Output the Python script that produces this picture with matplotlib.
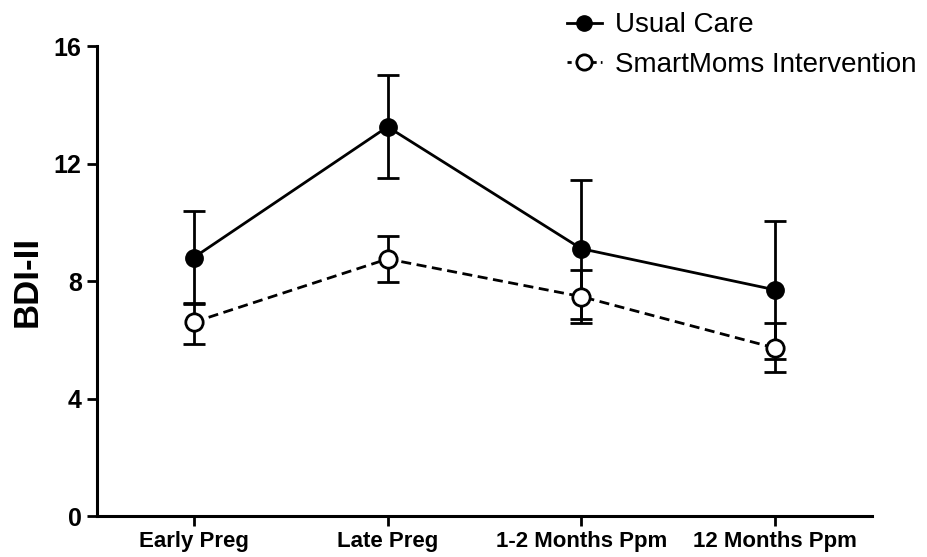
import matplotlib
matplotlib.use("Agg")
import matplotlib.pyplot as plt
from matplotlib.lines import Line2D
import numpy as np

categories = ["Early Preg", "Late Preg", "1-2 Months Ppm", "12 Months Ppm"]
usual_mean = [8.8, 13.25, 9.1, 7.7]
usual_upper = [10.4, 15.0, 11.45, 10.05]
usual_lower = [7.25, 11.5, 6.7, 5.33]
smart_mean = [6.6, 8.75, 7.47, 5.72]
smart_upper = [7.22, 9.54, 8.39, 6.56]
smart_lower = [5.85, 7.96, 6.56, 4.9]
yticks = [0, 4, 8, 12, 16]

plt.rcParams['font.family'] = ['Liberation Sans', 'DejaVu Sans']

fig = plt.figure(figsize=(9.28, 5.57), dpi=100)
ax = fig.add_axes([0.1045, 0.0736, 0.835, 0.8438])

x = np.arange(len(categories))
um = np.array(usual_mean); sm = np.array(smart_mean)
uerr = [um - np.array(usual_lower), np.array(usual_upper) - um]
serr = [sm - np.array(smart_lower), np.array(smart_upper) - sm]

ax.errorbar(x, um, yerr=uerr, fmt='-o', color='black', lw=2, ms=12.5,
            capsize=8, capthick=2, elinewidth=2, mfc='black', mec='black',
            zorder=3)
ax.errorbar(x, sm, yerr=serr, fmt='--o', color='black', lw=2, ms=12.5,
            capsize=8, capthick=2, elinewidth=2, mfc='white', mec='black', mew=2,
            dashes=(3.6, 2.0), zorder=4)

ax.set_xlim(-0.5, 3.5)
ax.set_ylim(0, 16)
ax.set_yticks(yticks)
ax.set_yticklabels([str(t) for t in yticks], fontsize=18, fontweight='bold')
ax.set_xticks(x)
ax.set_xticklabels(categories, fontsize=16, fontweight='bold')
ax.set_ylabel('BDI-II', fontsize=25, fontweight='bold', labelpad=7)

for s in ['top', 'right']:
    ax.spines[s].set_visible(False)
for s in ['left', 'bottom']:
    ax.spines[s].set_linewidth(2.2)
ax.tick_params(axis='both', direction='out', length=7, width=2, pad=4)

handles = [
    Line2D([], [], color='black', lw=2, marker='o', ms=11, mfc='black', mec='black'),
    Line2D([], [], color='black', lw=2, ls=(0, (1.5, 1.5)), marker='o', ms=11,
           mfc='white', mec='black', mew=2),
]
fig.legend(handles, ['Usual Care', 'SmartMoms Intervention'], loc='upper left',
           bbox_to_anchor=(0.611, 0.978), frameon=False, fontsize=20,
           handlelength=1.25, handletextpad=0.47, labelspacing=0.5,
           borderpad=0, borderaxespad=0)

fig.savefig('out.png', dpi=100)
